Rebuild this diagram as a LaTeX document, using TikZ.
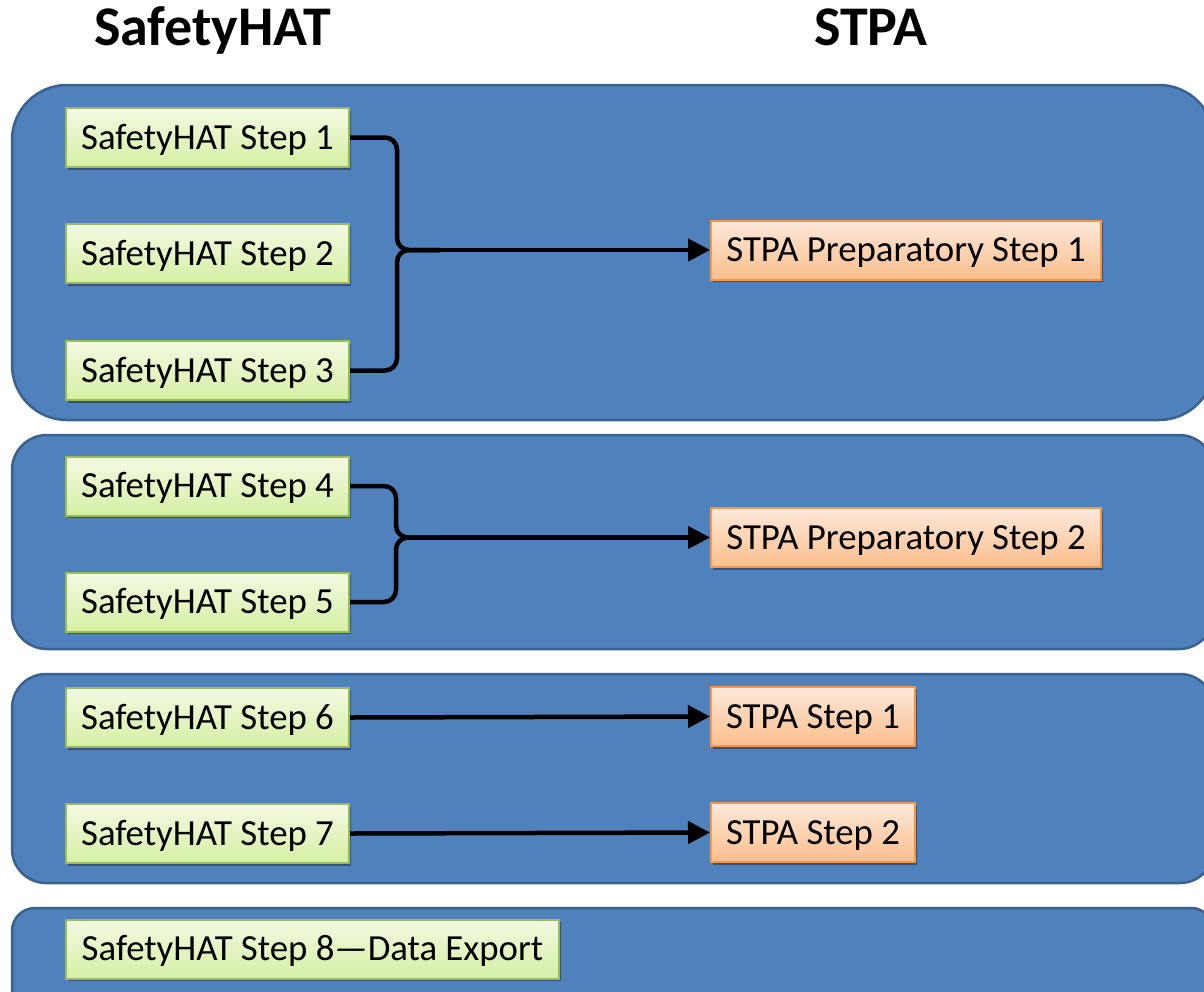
\documentclass[tikz,border=0pt]{standalone}
\usepackage{fontspec}
\setmainfont{Carlito}
\usetikzlibrary{arrows.meta,shadows}
\definecolor{panelfill}{HTML}{4F81BD}
\definecolor{paneledge}{HTML}{3A6291}
\definecolor{gtop}{HTML}{F3FAE3}
\definecolor{gbot}{HTML}{D5EFA3}
\definecolor{gedge}{HTML}{9BBB59}
\definecolor{otop}{HTML}{FDE9DA}
\definecolor{obot}{HTML}{FBBE8C}
\definecolor{oedge}{HTML}{F79646}
\begin{document}
\begin{tikzpicture}[x=1pt,y=-1pt,
  panel/.style={fill=panelfill,draw=paneledge,line width=2.5pt},
  box/.style={draw,line width=2pt,minimum height=59pt,inner sep=0pt,
    text height=23.5pt,text depth=0pt,font=\fontsize{36.8}{42}\selectfont,
    drop shadow={shadow xshift=1.5pt,shadow yshift=-2.5pt,opacity=0.35,fill=black}},
  gbox/.style={box,draw=gedge,top color=gtop,bottom color=gbot},
  obox/.style={box,draw=oedge,top color=otop,bottom color=obot},
  conn/.style={line width=4.5pt,black},
  arr/.style={conn,-{Triangle[length=22pt,width=22pt]}},
  title/.style={font=\bfseries\fontsize{56}{64}\selectfont,anchor=base,inner sep=0pt}]
\useasboundingbox (0,0) rectangle (1204,991);
\clip (0,0) rectangle (1204,991);

% titles
\node[title] (th) at (212.5,45) {SafetyHAT};
\node[title] (ts) at (871,45) {STPA};

% panels
\draw[panel,rounded corners=55pt] (12,85) rectangle (1214,420);
\draw[panel,rounded corners=35pt] (12,435) rectangle (1214,649);
\draw[panel,rounded corners=34pt] (12,674) rectangle (1214,883);
\draw[panel,rounded corners=23pt] (12,908) rectangle (1214,1050);

% SafetyHAT steps
\node[gbox,minimum width=283pt] (s1) at (207.5,137.5) {SafetyHAT Step 1};
\node[gbox,minimum width=283pt] (s2) at (207.5,253.5) {SafetyHAT Step 2};
\node[gbox,minimum width=283pt] (s3) at (207.5,370.5) {SafetyHAT Step 3};
\node[gbox,minimum width=283pt] (s4) at (207.5,486) {SafetyHAT Step 4};
\node[gbox,minimum width=283pt] (s5) at (207.5,602) {SafetyHAT Step 5};
\node[gbox,minimum width=283pt] (s6) at (207.5,717.5) {SafetyHAT Step 6};
\node[gbox,minimum width=283pt] (s7) at (207.5,833.5) {SafetyHAT Step 7};
\node[gbox,minimum width=493pt] (s8) at (312.5,949) {SafetyHAT Step 8—Data Export};

% STPA steps
\node[obox,minimum width=390pt] (p1) at (906,250) {STPA Preparatory Step 1};
\node[obox,minimum width=390pt] (p2) at (906,537.5) {STPA Preparatory Step 2};
\node[obox,minimum width=204pt] (t1) at (813,716.5) {STPA Step 1};
\node[obox,minimum width=204pt] (t2) at (813,832.5) {STPA Step 2};

% connectors
\coordinate (b1) at (397,250);
\coordinate (j1) at (440,250);
\draw[conn,rounded corners=12pt] (s1.east) -| (b1) -- (j1);
\draw[conn,rounded corners=12pt] (s3.east) -| (b1) -- (j1);
\draw[arr] (j1) -- (p1.west);

\coordinate (b2) at (396,537.5);
\coordinate (j2) at (440,537.5);
\draw[conn,rounded corners=12pt] (s4.east) -| (b2) -- (j2);
\draw[conn,rounded corners=12pt] (s5.east) -| (b2) -- (j2);
\draw[arr] (j2) -- (p2.west);

\draw[arr] (s6.east) -- (t1.west);
\draw[arr] (s7.east) -- (t2.west);
\end{tikzpicture}
\end{document}
